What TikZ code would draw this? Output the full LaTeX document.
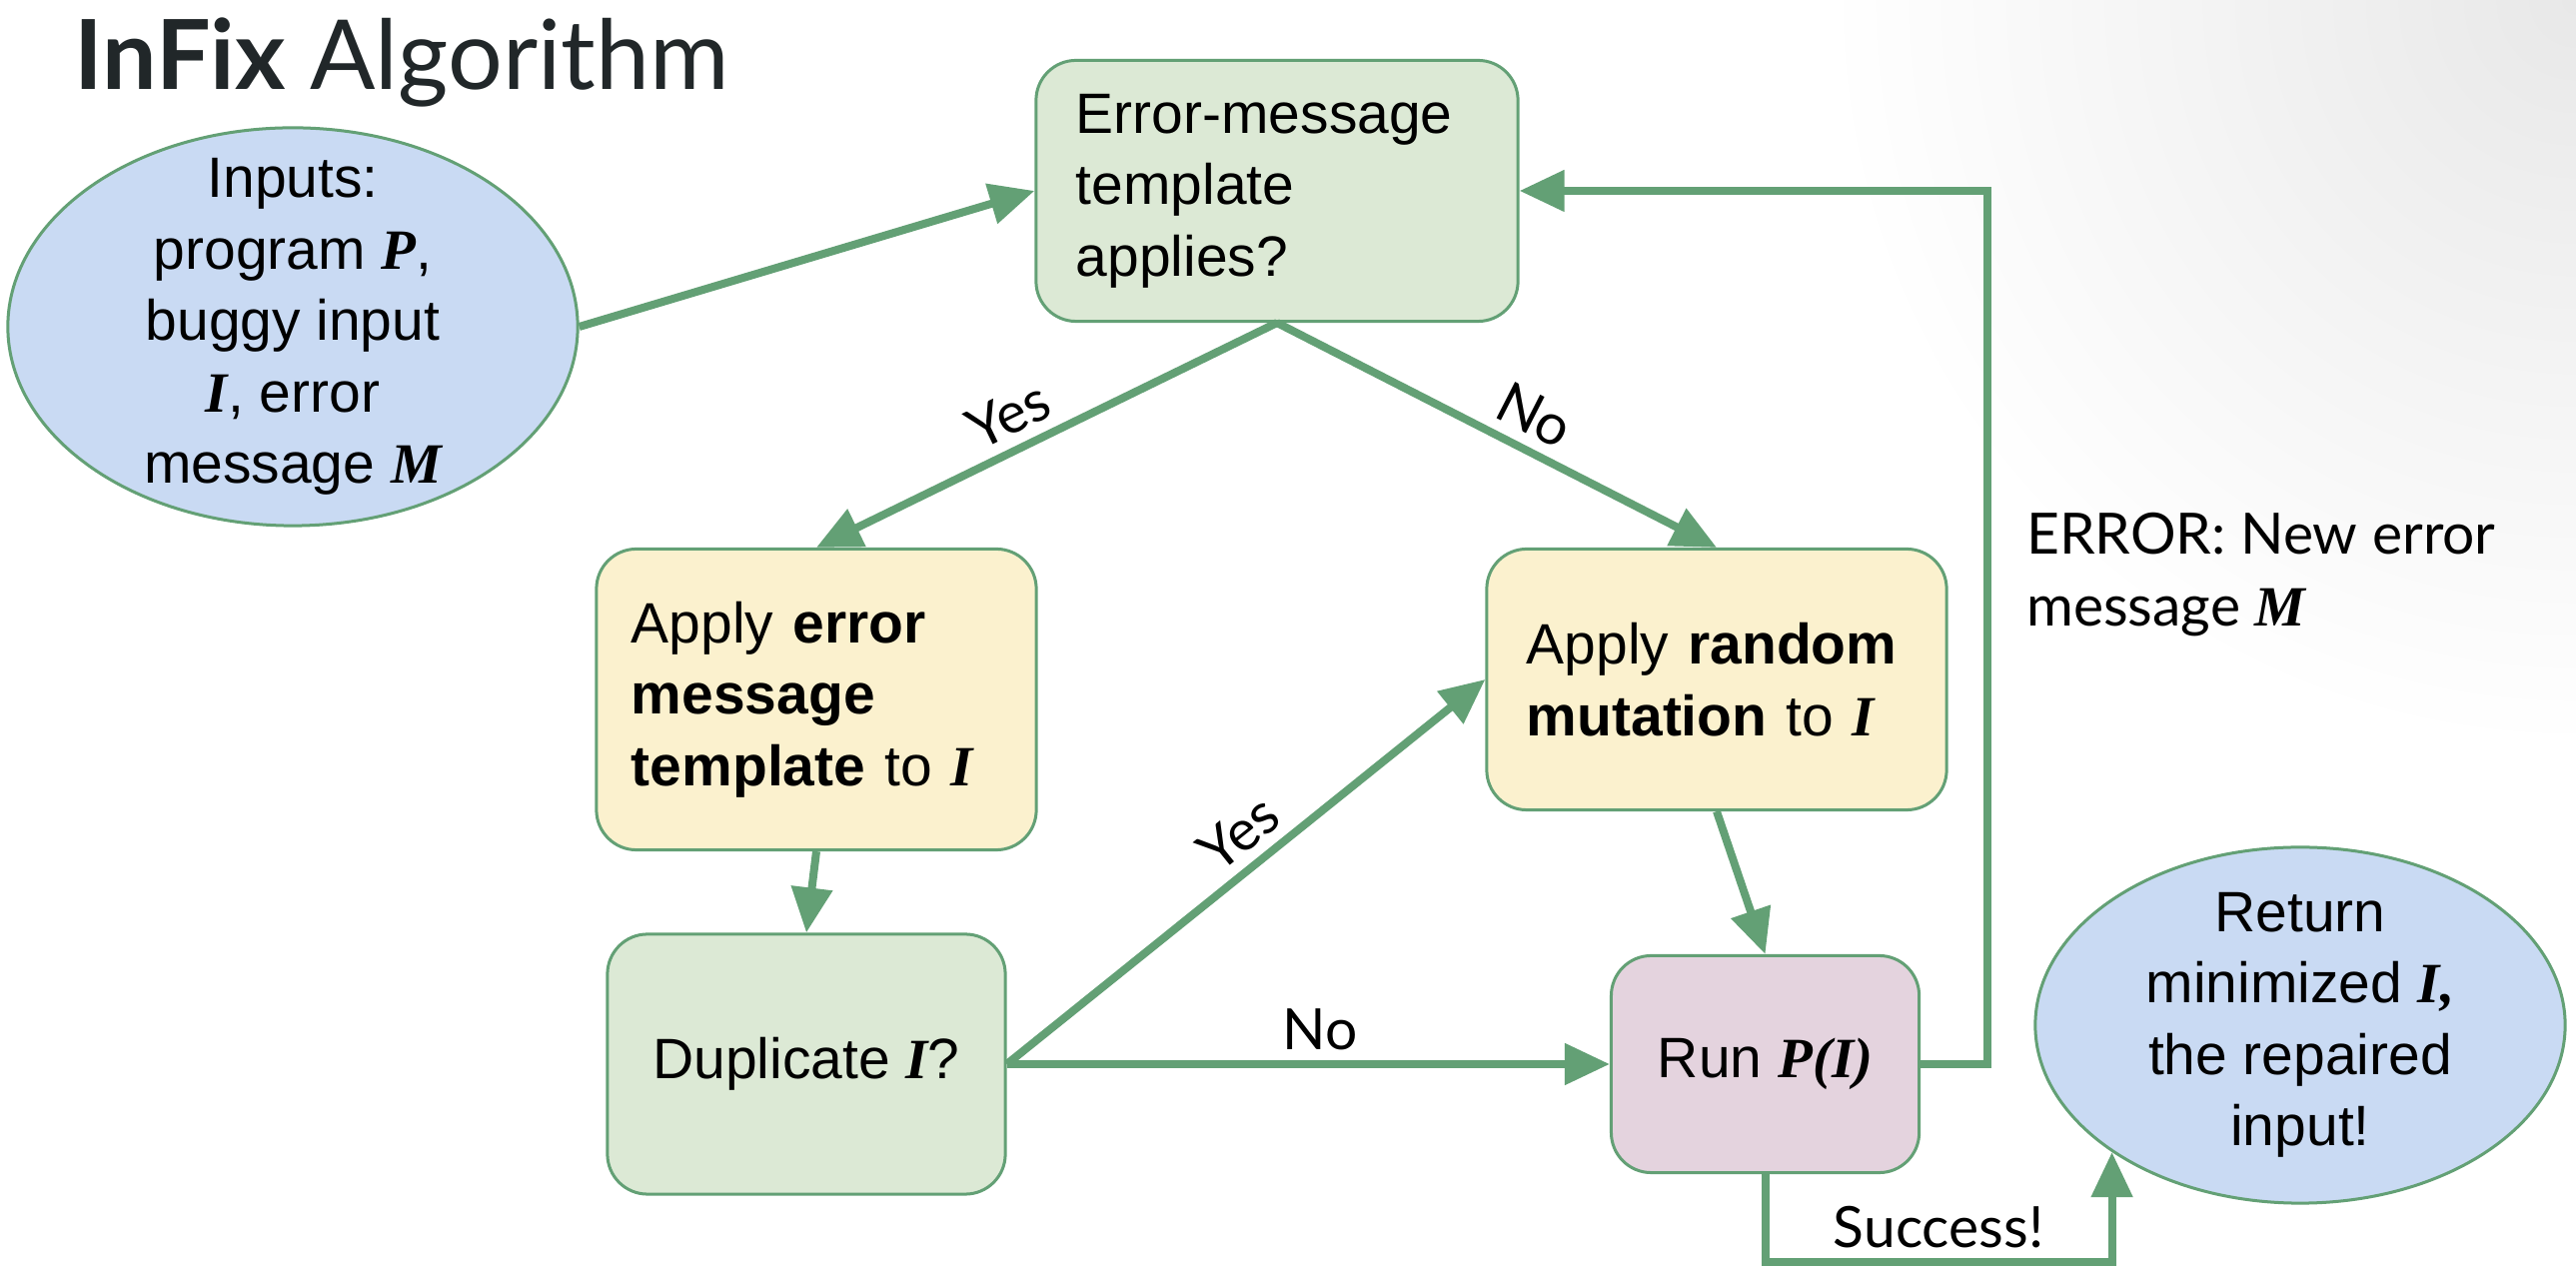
\documentclass[tikz,border=0pt]{standalone}
\usepackage{fontspec}
\setmainfont{Liberation Sans}
\newfontfamily\latofont{Lato}
\newfontfamily\serifbi{Liberation Serif}
\usepackage{tikz}
\usetikzlibrary{shapes.geometric, arrows.meta, positioning}
\definecolor{FlowGreen}{RGB}{99,160,117}
\definecolor{InBlue}{RGB}{201,218,243}
\definecolor{AskGreen}{RGB}{220,233,213}
\definecolor{DoYellow}{RGB}{251,241,206}
\definecolor{RunPink}{RGB}{228,211,222}
\definecolor{TitleInk}{RGB}{33,39,41}
\newcommand{\mv}[1]{{\serifbi\bfseries\itshape #1}}
\newcommand{\bodyfont}{\fontsize{16.2}{20.3}\selectfont}
\newcommand{\labelfont}{\latofont\fontsize{16.2}{20.3}\selectfont}

\begin{document}
\begin{tikzpicture}[
    x=0.01cm, y=-0.01cm,
    blob/.style={draw=FlowGreen, line width=0.03cm, fill=InBlue, ellipse, inner sep=0pt},
    blobtext/.style={align=center, font=\bodyfont},
    box/.style={draw=FlowGreen, line width=0.03cm, rectangle, rounded corners=0.4cm, font=\bodyfont, inner ysep=0pt},
    askbox/.style={box, fill=AskGreen},
    dobox/.style={box, fill=DoYellow, align=left},
    arrow/.style={-{Triangle[length=0.45cm, width=0.4cm]}, line width=0.08cm, draw=FlowGreen},
    lbl/.style={font=\labelfont, inner sep=3pt}
]
\useasboundingbox (0,0) rectangle (2578,1274);

% faint corner glow
\begin{scope}
\clip (0,0) rectangle (2578,1274);
\shade[inner color=black!9, outer color=white] (2578,0) circle (750);
\end{scope}

\node (title) [anchor=base west, inner sep=0pt, text=TitleInk, font=\latofont\fontsize{27.5}{32}\selectfont] at (74,90) {\textbf{InFix} Algorithm};

\node (inputs) [blob, minimum width=5.7cm, minimum height=3.98cm,
    label={[blobtext]center:{Inputs:\\program \mv{P},\\buggy input\\\mv{I}, error\\message \mv{M}}}] at (293,327) {};
\node (err) [askbox, align=left, text width=4.02cm, inner xsep=0.4cm, minimum height=2.61cm] at (1278,191) {Error-message\\template\\applies?};
\node (emt) [dobox, text width=3.7cm, inner xsep=0.35cm, minimum height=3.01cm] at (817,700) {Apply \textbf{error}\\\textbf{message}\\\textbf{template} to \mv{I}};
\node (mut) [dobox, text width=3.8cm, inner xsep=0.4cm, minimum height=2.61cm] at (1718,680) {Apply \textbf{random}\\\textbf{mutation} to \mv{I}};
\node (dup) [askbox, minimum width=3.98cm, minimum height=2.6cm] at (807,1065) {Duplicate \mv{I}?};
\node (run) [box, fill=RunPink, minimum width=3.08cm, minimum height=2.17cm, right=6.03cm of dup] {Run \mv{P(I)}};
\node (ret) [blob, minimum width=5.3cm, minimum height=3.56cm,
    label={[blobtext]center:{Return\\minimized \mv{I,}\\the repaired\\input!}}] at (2302,1026) {};
\node (errlbl) [lbl, align=left, anchor=west] at (2017,575) {ERROR: New error\\message \mv{M}};

\draw [arrow] (inputs.east) -- (err.west);
\draw [arrow] (err.south) -- node [lbl, sloped, above, pos=0.55] {Yes} (emt.north);
\draw [arrow] (err.south) -- node [lbl, sloped, above, pos=0.55] {No} (mut.north);
\draw [arrow] (emt.south) -- (dup.north);
\draw [arrow] (dup.east) -- node [lbl, above, pos=0.52] {No} (run.west);
\draw [arrow] (dup.east) -- node [lbl, sloped, above, pos=0.53] {Yes} (mut.west);
\draw [arrow] (mut.south) -- (run.north);
\draw [arrow] (run.east) -- ++(67,0) |- (err.east);
\draw [arrow] (run.south) -- ++(0,88) -| node [lbl, above, pos=0.25] {Success!} (ret.214);

\end{tikzpicture}
\end{document}
